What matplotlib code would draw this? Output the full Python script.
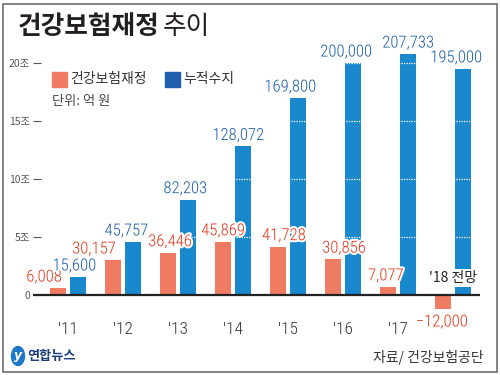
import matplotlib
matplotlib.use("Agg")
import matplotlib.pyplot as plt
import matplotlib.patheffects as pe
from matplotlib.patches import Rectangle, Ellipse
import numpy as np

# data (unit: 억 원)
years = ["'11", "'12", "'13", "'14", "'15", "'16", "'17", "'18"]
finance = [6008, 30157, 36446, 45869, 41728, 30856, 7077, -12000]
cumulative = [15600, 45757, 82203, 128072, 169800, 200000, 207733, 195000]
ytick_vals = [0, 50000, 100000, 150000, 200000]
ytick_labels = ["0", "5조", "10조", "15조", "20조"]

# label nudges in pixels (x)
red_dx = [-14, -19, 2, 0, 6, 11, -2, -1]
blue_dx = [-4, -7, -3, -5, -8, -7, 0, -7]

RED = "#ee7b62"
BLUE = "#1a88cc"
RED_TXT = "#e8361c"
BLUE_TXT = "#1d5ea8"
KR = ["Noto Sans CJK KR", "DejaVu Sans"]
NARROW = ["Roboto Condensed", "DejaVu Sans"]

W, H = 500, 375
fig = plt.figure(figsize=(W / 100, H / 100), dpi=100)


def px(x, y):
    return x / W, 1 - y / H


# axes placed so that 0 -> y=295px and 200,000 -> y=63px
ylo, yhi = -20000, 220000
ppu = 232 / 200000
top_px = 63 - (yhi - 200000) * ppu
bot_px = 295 - ylo * ppu
ax = fig.add_axes([33 / W, 1 - bot_px / H, 447 / W, (bot_px - top_px) / H])
ax.set_ylim(ylo, yhi)
ax.set_xlim(-0.64, 7.49)
ax.patch.set_alpha(0)
for s in ax.spines.values():
    s.set_visible(False)

x = np.arange(len(years))
off = 0.185
bw = 0.29
ax.bar(x - off, finance, width=bw, color=RED, zorder=2)
ax.bar(x + off, cumulative, width=bw, color=BLUE, zorder=2)

# white dotted grid visible only over bars
for v in ytick_vals[1:]:
    ax.axhline(v, xmin=0.03, color="white", lw=0.9, ls=(0, (1, 1)), zorder=3)
ax.axhline(0, color="#222222", lw=1.6, zorder=4)

ax.set_yticks(ytick_vals)
ax.set_yticklabels(ytick_labels, family=KR, fontsize=7.5, color="#555555",
                   weight="light")
ax.tick_params(axis="y", direction="in", length=6, width=0.8, color="#555555", pad=2)
ax.set_xticks(x[:-1])
ax.set_xticklabels(years[:-1], family=NARROW, fontsize=12.5, color="#333333",
                   weight="light")
ax.tick_params(axis="x", length=0, pad=3)

halo = [pe.withStroke(linewidth=3, foreground="white")]
for i in range(len(years)):
    v = finance[i]
    if v >= 0:
        ax.annotate(f"{v:,}", (x[i] - off, v), xytext=(red_dx[i] * 0.72, 2.5),
                    textcoords="offset points", ha="center", va="bottom",
                    family=NARROW, fontsize=12, weight="light", color=RED_TXT,
                    path_effects=halo, zorder=6)
    else:
        ax.annotate(f"\u2212{abs(v):,}", (x[i] - off, v), xytext=(red_dx[i] * 0.72, -4),
                    textcoords="offset points", ha="center", va="top",
                    family=NARROW, fontsize=12, weight="light", color=RED_TXT,
                    path_effects=halo, zorder=6)
    c = cumulative[i]
    ax.annotate(f"{c:,}", (x[i] + off, c), xytext=(blue_dx[i] * 0.72, 2.5),
                textcoords="offset points", ha="center", va="bottom",
                family=NARROW, fontsize=12, weight="light", color=BLUE_TXT,
                path_effects=halo, zorder=6)

ax.text(x[-1], 15000, "'18 전망", ha="center", va="center", family=KR,
        fontsize=10, color="#222222", zorder=7,
        bbox=dict(boxstyle="square,pad=0.15", fc="white", ec="none"))

# title
fig.text(*px(18, 27), "건강보험재정", family=KR, fontsize=18.5, weight="bold",
         color="#231f20", va="center", ha="left")
fig.text(*px(163, 27), "추이", family=KR, fontsize=18.5, color="#231f20",
         va="center", ha="left")

# legend
fig.patches.append(Rectangle(px(52, 87), 15 / W, 15 / H, transform=fig.transFigure,
                             color=RED, zorder=5))
fig.text(*px(70, 79), "건강보험재정", family=KR, fontsize=10, color="#333333",
         va="center", ha="left")
fig.patches.append(Rectangle(px(165, 87), 15 / W, 15 / H, transform=fig.transFigure,
                             color="#1f5fae", zorder=5))
fig.text(*px(183, 79), "누적수지", family=KR, fontsize=10, color="#333333",
         va="center", ha="left")
fig.text(*px(52, 101), "단위: 억 원", family=KR, fontsize=9.5, color="#444444",
         va="center", ha="left")

# footer
fig.patches.append(Ellipse(px(18, 356), 13 / W, 19 / H, angle=0,
                           transform=fig.transFigure, color="#1f78c8", zorder=5))
fig.text(*px(18, 356), "y", fontsize=9, color="white", style="italic",
         weight="bold", ha="center", va="center", zorder=6)
fig.text(*px(27, 356), "연합뉴스", family=KR, fontsize=9.5, weight="bold",
         color="#1b3f7c", va="center", ha="left")
fig.text(*px(484, 357), "자료/ 건강보험공단", family=KR, fontsize=10,
         color="#333333", va="center", ha="right")

# outer frame
fig.patches.append(Rectangle((3 / W, 3 / H), 494 / W, 368 / H, transform=fig.transFigure,
                             fill=False, ec="#7a7a7a", lw=1.3, zorder=10))

fig.savefig("out.png", dpi=100)
